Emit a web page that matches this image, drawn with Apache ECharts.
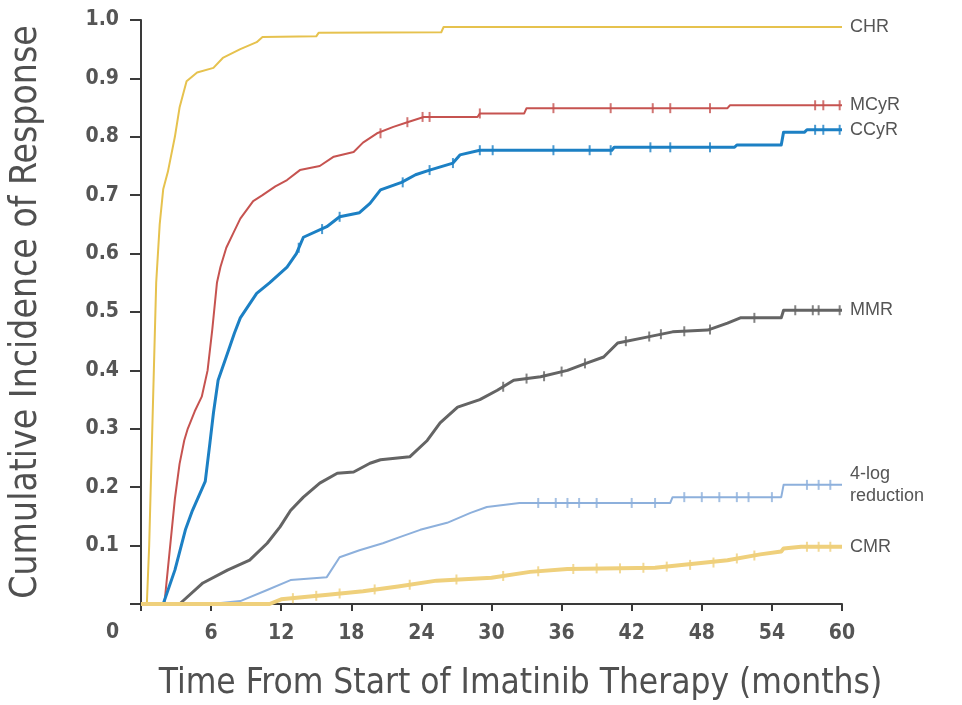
<!DOCTYPE html>
<html>
<head>
<meta charset="utf-8">
<script src="https://cdn.jsdelivr.net/npm/echarts@6/dist/echarts.min.js"></script>
<style>
html,body{margin:0;padding:0;background:#fff;}
#c{width:962px;height:705px;}
</style>
</head>
<body>
<div id="c"></div>
<script>
// ---- data (months, cumulative incidence), vertices ----
var seriesNames = ['CHR', 'MCyR', 'CCyR', 'MMR', '4-log\nreduction', 'CMR'];
var xTicks = [0, 6, 12, 18, 24, 30, 36, 42, 48, 54, 60];
var yTicks = [0.1, 0.2, 0.3, 0.4, 0.5, 0.6, 0.7, 0.8, 0.9, 1.0];

var chr = [[0,0],[0.5,0],[0.7,0.1],[0.9,0.25],[1.1,0.4],[1.3,0.55],[1.6,0.65],[1.9,0.71],[2.3,0.74],[2.9,0.8],[3.3,0.85],[3.9,0.895],[4.8,0.91],[6.2,0.918],[7.0,0.935],[8.5,0.95],[9.9,0.962],[10.4,0.971],[15.0,0.972],[15.2,0.978],[25.7,0.979],[25.9,0.988],[60,0.988]];
var mcyr = [[0,0],[2.0,0],[2.3,0.06],[2.9,0.18],[3.3,0.24],[3.7,0.28],[4.0,0.30],[4.6,0.33],[5.2,0.355],[5.7,0.40],[6.1,0.47],[6.5,0.55],[6.8,0.577],[7.3,0.61],[7.9,0.635],[8.5,0.66],[9.6,0.69],[10.4,0.70],[11.5,0.715],[12.5,0.726],[13.6,0.743],[15.3,0.75],[16.5,0.766],[18.2,0.774],[19.0,0.79],[20.2,0.806],[21.6,0.817],[22.8,0.825],[24.2,0.834],[28.8,0.834],[29,0.84],[32.8,0.84],[33,0.849],[50.2,0.849],[50.4,0.854],[60,0.854]];
var ccyr = [[0,0],[1.9,0],[2.9,0.058],[3.8,0.127],[4.4,0.16],[5.5,0.21],[5.9,0.276],[6.2,0.327],[6.6,0.383],[7.5,0.435],[8.0,0.464],[8.5,0.49],[9.9,0.532],[11.0,0.55],[12.5,0.577],[13.3,0.60],[13.9,0.628],[15.9,0.646],[17.0,0.663],[18.7,0.67],[19.6,0.686],[20.5,0.709],[22.3,0.722],[23.5,0.735],[24.7,0.743],[26.7,0.755],[27.3,0.769],[29,0.777],[40.3,0.777],[40.5,0.782],[50.8,0.782],[51,0.786],[54.8,0.786],[55,0.808],[56.8,0.808],[57,0.812],[60,0.812]];
var mmr = [[0,0],[3.3,0],[5.3,0.036],[7.4,0.058],[9.3,0.075],[10.8,0.104],[11.9,0.132],[12.8,0.16],[13.9,0.183],[15.3,0.207],[16.8,0.224],[18.2,0.226],[19.6,0.241],[20.5,0.247],[23,0.252],[24.5,0.28],[25.6,0.31],[27.1,0.337],[29,0.35],[30.5,0.366],[31.9,0.383],[34.2,0.389],[36.5,0.40],[38.2,0.413],[39.6,0.423],[40.8,0.447],[43.3,0.457],[45.5,0.466],[48.5,0.469],[50.2,0.481],[51.3,0.49],[54.8,0.49],[55,0.503],[60,0.503]];
var fourLog = [[0,0],[6,0],[8.5,0.005],[10.8,0.024],[12.8,0.041],[15.9,0.046],[17.0,0.08],[18.7,0.092],[20.7,0.104],[22.2,0.115],[23.9,0.127],[26.2,0.139],[28.2,0.156],[29.6,0.166],[32.4,0.173],[45.3,0.173],[45.5,0.183],[54.8,0.183],[55,0.204],[60,0.204]];
var cmr = [[0,0],[11,0],[12,0.008],[16,0.016],[19,0.022],[22,0.03],[25.3,0.04],[30,0.045],[33.3,0.055],[36.5,0.06],[44,0.062],[50.2,0.075],[53,0.085],[54.8,0.09],[55,0.095],[56.5,0.098],[60,0.098]];

// censoring marks
var mcyrCens = [[20.5,0.806],[22.8,0.825],[24.1,0.834],[24.7,0.834],[29,0.84],[35.3,0.849],[40.2,0.849],[43.8,0.849],[45.3,0.849],[48.7,0.849],[57.7,0.854],[58.4,0.854],[59.8,0.854]];
var ccyrCens = [[13.5,0.61],[15.5,0.642],[17,0.663],[22.4,0.722],[24.7,0.743],[26.7,0.755],[29,0.777],[30.1,0.777],[35.3,0.777],[38.4,0.777],[40.2,0.777],[43.6,0.782],[45.3,0.782],[48.7,0.782],[57.7,0.812],[58.4,0.812],[59.8,0.812]];
var mmrCens = [[31,0.372],[33,0.386],[34.5,0.39],[36,0.398],[38,0.412],[41.5,0.45],[43.5,0.458],[44.5,0.462],[46.5,0.467],[48.7,0.47],[52.5,0.49],[56,0.503],[57.5,0.503],[58,0.503],[59.8,0.503]];
var fourLogCens = [[34,0.173],[35.5,0.173],[36.5,0.173],[37.5,0.173],[39,0.173],[42,0.173],[44,0.173],[46.5,0.183],[48,0.183],[49.5,0.183],[51,0.183],[52,0.183],[54,0.183],[57,0.204],[58,0.204],[59,0.204]];
var cmrCens = [[13,0.01],[15,0.014],[17,0.018],[20,0.025],[23,0.033],[27,0.042],[31,0.048],[34,0.056],[37,0.06],[39,0.061],[41,0.061],[43,0.062],[45,0.064],[47,0.067],[49,0.071],[51,0.078],[52.5,0.083],[57,0.098],[58,0.098],[59,0.098]];

var colors = ['#e6c24e', '#c65350', '#1c80c4', '#646464', '#8db0dc', '#efd07c'];
var widths = [2, 2, 3, 3, 2, 4];
var curves = [chr, mcyr, ccyr, mmr, fourLog, cmr];
var cens = [null, mcyrCens, ccyrCens, mmrCens, fourLogCens, cmrCens];

var narrow = "'Liberation Sans Narrow','DejaVu Sans Condensed',sans-serif";
var series = [];
curves.forEach(function (d, i) {
  series.push({
    name: seriesNames[i],
    type: 'line',
    data: d,
    showSymbol: false,
    symbol: 'none',
    lineStyle: {color: colors[i], width: widths[i], join: 'round'},
    z: 3,
    endLabel: {
      show: true,
      formatter: seriesNames[i],
      color: '#555',
      fontFamily: "'Liberation Sans',Arial,sans-serif",
      fontSize: 18,
      lineHeight: 22,
      distance: 8
    },
    animation: false
  });
  if (cens[i]) {
    series.push({
      type: 'scatter',
      data: cens[i],
      symbol: 'rect',
      symbolSize: [2, 10],
      itemStyle: {color: colors[i]},
      z: 4,
      animation: false,
      silent: true
    });
  }
});

var chart = echarts.init(document.getElementById('c'));
chart.setOption({
  backgroundColor: '#fff',
  animation: false,
  grid: {left: 141, right: 120, top: 20, bottom: 101, containLabel: false, outerBoundsMode: 'none'},
  xAxis: {
    type: 'value', min: 0, max: 60, interval: 6,
    name: 'Time From Start of Imatinib Therapy (months)',
    nameLocation: 'middle', nameGap: 62,
    nameTextStyle: {fontFamily: narrow, fontSize: 35, color: '#505050', padding: [0, 0, 0, 58]},
    axisLine: {show: true, lineStyle: {color: '#3a3a3a', width: 2}},
    axisTick: {show: true, length: 7, lineStyle: {color: '#3a3a3a', width: 2}},
    axisLabel: {
      fontFamily: narrow, fontSize: 21, fontWeight: 'bold', color: '#555', margin: 19,
      formatter: function (v) { return (v === 0 || xTicks.indexOf(v) < 0) ? '' : String(v); }
    },
    splitLine: {show: false}
  },
  yAxis: {
    type: 'value', min: 0, max: 1, interval: 0.1,
    name: 'Cumulative Incidence of Response',
    nameLocation: 'middle', nameGap: 96, nameRotate: 90,
    nameTextStyle: {fontFamily: narrow, fontSize: 37, color: '#505050'},
    axisLine: {show: true, lineStyle: {color: '#3a3a3a', width: 2}},
    axisTick: {show: true, length: 11, lineStyle: {color: '#3a3a3a', width: 2}},
    axisLabel: {
      fontFamily: narrow, fontSize: 21, fontWeight: 'bold', color: '#555', margin: 22,
      formatter: function (v) {
        var r = Math.round(v * 10) / 10;
        return yTicks.indexOf(r) < 0 ? '' : r.toFixed(1);
      }
    },
    splitLine: {show: false}
  },
  graphic: [{
    type: 'text', left: 106, top: 622,
    style: {text: '0', font: "bold 21px 'Liberation Sans Narrow','DejaVu Sans Condensed',sans-serif", fill: '#555'}
  }],
  series: series
});
</script>
</body>
</html>
